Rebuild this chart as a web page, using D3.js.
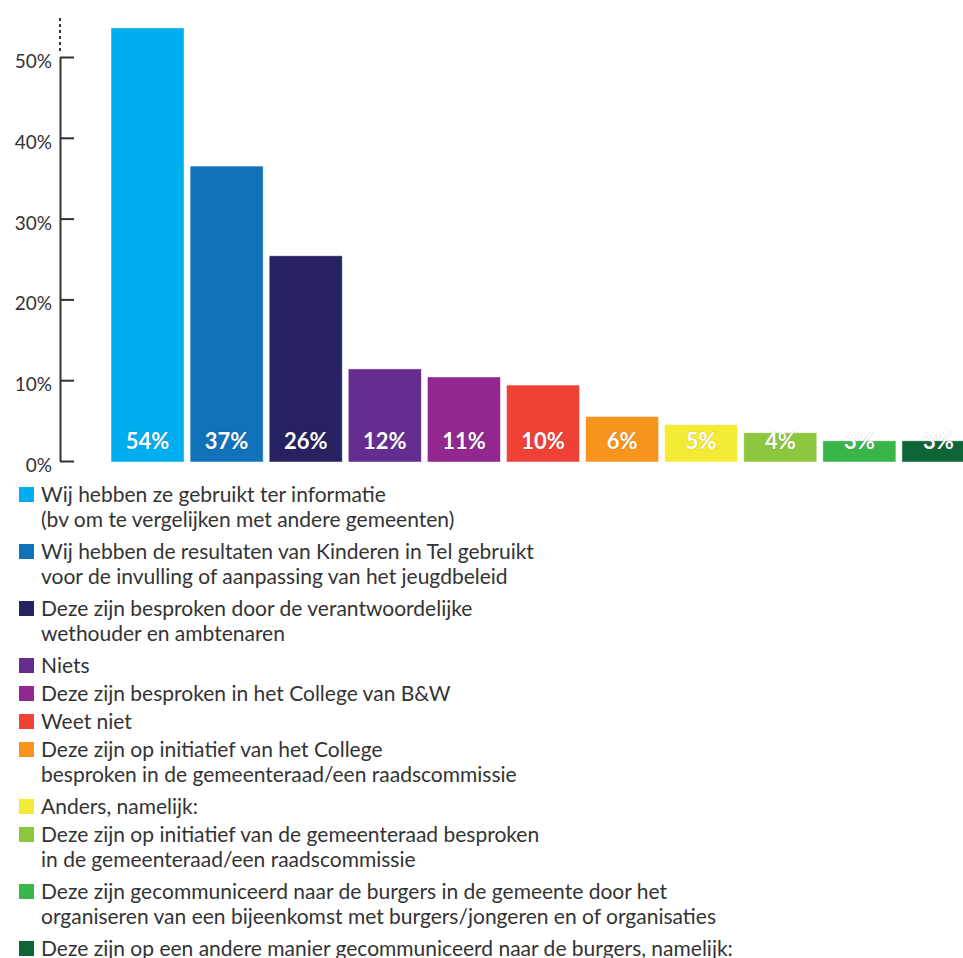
<!DOCTYPE html>
<html>
<head>
<meta charset="utf-8">
<script src="https://cdn.jsdelivr.net/npm/d3@7"></script>
<style>
    body { margin: 0; background: #fff; }
    svg { display: block; }
    .tick text { font-family: Lato, "Open Sans", sans-serif; font-size: 19px; fill: #333; }
    .legend text { font-family: Lato, "Open Sans", sans-serif; font-size: 21px; fill: #333; }
</style>
</head>
<body>
<div id="chart"></div>
<script>
// answers (legend text, "\n" = line break)
var categories = [
    "Wij hebben ze gebruikt ter informatie\n(bv om te vergelijken met andere gemeenten)",
    "Wij hebben de resultaten van Kinderen in Tel gebruikt\nvoor de invulling of aanpassing van het jeugdbeleid",
    "Deze zijn besproken door de verantwoordelijke\nwethouder en ambtenaren",
    "Niets",
    "Deze zijn besproken in het College van B&W",
    "Weet niet",
    "Deze zijn op initiatief van het College\nbesproken in de gemeenteraad/een raadscommissie",
    "Anders, namelijk:",
    "Deze zijn op initiatief van de gemeenteraad besproken\nin de gemeenteraad/een raadscommissie",
    "Deze zijn gecommuniceerd naar de burgers in de gemeente door het\norganiseren van een bijeenkomst met burgers/jongeren en of organisaties",
    "Deze zijn op een andere manier gecommuniceerd naar de burgers, namelijk:"
];
// bar heights
var values = [53.6, 36.5, 25.4, 11.4, 10.4, 9.4, 5.5, 4.5, 3.5, 2.5, 2.5];
// labels printed in the bars
var valueLabels = ["54%", "37%", "26%", "12%", "11%", "10%", "6%", "5%", "4%", "3%", "3%"];
var colors = ["#00aeef", "#1172b9", "#262262", "#662d91", "#92278f", "#ef4136",
              "#f7941d", "#f4eb35", "#8dc63f", "#39b54a", "#0e6638"];
var yTicks = [0, 10, 20, 30, 40, 50];

var width = 963, height = 958;

var svg = d3.select("#chart").append("svg")
    .attr("width", width)
    .attr("height", height);

var x = d3.scaleBand()
    .domain(d3.range(values.length))
    .range([111, 975])
    .paddingInner(0.076)
    .paddingOuter(0);

var y = d3.scaleLinear()
    .domain([0, 50])
    .range([461, 57]);

// bars
svg.append("g")
    .selectAll("rect")
    .data(values)
    .enter().append("rect")
    .attr("x", function (d, i) { return x(i); })
    .attr("y", function (d) { return y(d); })
    .attr("width", x.bandwidth())
    .attr("height", function (d) { return y(0) - y(d) + 1; })
    .attr("fill", function (d, i) { return colors[i]; })
    .attr("stroke", "rgba(255,255,255,0.6)")
    .attr("stroke-width", 0.8);

// value labels
svg.append("g")
    .selectAll("text")
    .data(valueLabels)
    .enter().append("text")
    .attr("x", function (d, i) { return x(i) + x.bandwidth() / 2; })
    .attr("y", y(0) - 12)
    .attr("text-anchor", "middle")
    .style("font-family", "Lato, 'Open Sans', sans-serif")
    .style("font-weight", "bold")
    .style("font-size", "22px")
    .style("fill", "#fff")
    .style("stroke", "rgba(0,0,0,0.25)")
    .style("stroke-width", "0.7px")
    .style("paint-order", "stroke")
    .text(function (d) { return d; });

// y axis, ticks point to the right
var yAxis = d3.axisLeft(y)
    .tickValues(yTicks)
    .tickFormat(function (d) { return d + "%"; })
    .tickSizeInner(-14)
    .tickSizeOuter(0)
    .tickPadding(8);

var axisG = svg.append("g")
    .attr("transform", "translate(60,0)")
    .call(yAxis);

axisG.select(".domain").attr("stroke", "#333").attr("stroke-width", 2);
axisG.selectAll(".tick line").attr("stroke", "#333").attr("stroke-width", 2);
axisG.selectAll(".tick text").attr("dy", "0.55em");

// dotted continuation above 50%
axisG.append("line")
    .attr("x1", 0).attr("x2", 0)
    .attr("y1", y(50) - 6)
    .attr("y2", y(55.2))
    .attr("stroke", "#333")
    .attr("stroke-width", 2)
    .attr("stroke-dasharray", "3,3");

// legend
var legend = svg.append("g").attr("class", "legend");
var legendY = 487;
categories.forEach(function (c, i) {
    var lines = c.split("\n");
    var item = legend.append("g").attr("transform", "translate(0," + legendY + ")");
    item.append("rect")
        .attr("x", 19)
        .attr("y", 0)
        .attr("width", 15)
        .attr("height", 15)
        .attr("fill", colors[i]);
    lines.forEach(function (l, j) {
        item.append("text")
            .attr("x", 41)
            .attr("y", 15 + j * 24.5)
            .text(l);
    });
    legendY += 28 + (lines.length - 1) * 29;
});
</script>
</body>
</html>
